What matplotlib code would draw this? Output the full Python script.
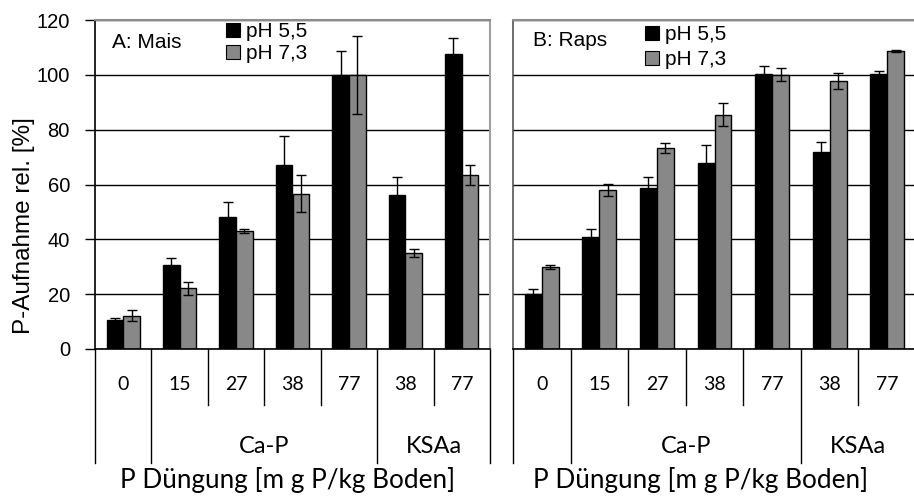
import numpy as np
import matplotlib
matplotlib.use("Agg")
import matplotlib.pyplot as plt
from matplotlib.patches import Patch
from matplotlib.lines import Line2D
from matplotlib.transforms import blended_transform_factory

# ---------------- data ----------------
doses = ["0", "15", "27", "38", "77", "38", "77"]
groups = [("Ca-P", 1, 4), ("KSAa", 5, 6)]
series_names = ["pH 5,5", "pH 7,3"]

mais_ph55 = [10.6, 30.7, 48.0, 67.1, 100.0, 56.0, 107.6]
mais_ph55_err = [0.6, 2.5, 5.5, 10.5, 8.7, 6.6, 6.0]
mais_ph73 = [12.2, 22.1, 43.0, 56.6, 100.0, 35.0, 63.5]
mais_ph73_err = [2.0, 2.4, 0.8, 6.7, 14.3, 1.3, 3.5]

raps_ph55 = [19.9, 40.8, 58.7, 67.8, 100.2, 72.0, 100.2]
raps_ph55_err = [2.0, 3.0, 4.2, 6.6, 3.0, 3.6, 1.2]
raps_ph73 = [29.9, 58.1, 73.3, 85.5, 100.0, 97.7, 108.7]
raps_ph73_err = [0.7, 2.2, 1.8, 4.2, 2.4, 3.0, 0.5]

panel_titles = ["A: Mais", "B: Raps"]
ylabel = "P-Aufnahme rel. [%]"
xlabel = "P Düngung [m g P/kg Boden]"
yticks = [0, 20, 40, 60, 80, 100, 120]

# ---------------- style ----------------
W, H = 914, 496
BLACK = "#000000"
GREY = "#888888"
ARIAL = ["Liberation Sans", "DejaVu Sans"]
CALIBRI = ["Lato", "DejaVu Sans"]

fig = plt.figure(figsize=(W / 100, H / 100), dpi=100)

def px_axes(x0, y0, x1, y1):
    return fig.add_axes([x0 / W, 1 - y1 / H, (x1 - x0) / W, (y1 - y0) / H])

ax1 = px_axes(95, 20, 490, 349)
ax2 = px_axes(513, 20, 916, 349)

def fy(p):
    return 1 - p / H

def draw_panel(ax, v55, e55, v73, e73, title, title_pos, leg_anchor, leg_spacing,
               xlabel_x, show_yticks):
    x = np.arange(len(doses))
    bw = 0.295
    ax.set_axisbelow(True)
    ax.yaxis.grid(True, color="black", linewidth=1.0)
    ax.bar(x - bw / 2, v55, width=bw, color=BLACK, edgecolor="black", linewidth=1, zorder=2)
    ax.bar(x + bw / 2, v73, width=bw, color=GREY, edgecolor="black", linewidth=1, zorder=2)
    ax.errorbar(x - bw / 2, v55, yerr=e55, fmt="none", ecolor="black", elinewidth=1,
                capsize=3.5, capthick=1, zorder=3)
    ax.errorbar(x + bw / 2, v73, yerr=e73, fmt="none", ecolor="black", elinewidth=1,
                capsize=3.5, capthick=1, zorder=3)
    ax.set_xlim(-0.5, len(doses) - 0.5)
    ax.set_ylim(0, 120)
    ax.set_yticks(yticks)
    ax.set_xticks([])
    if show_yticks:
        ax.tick_params(axis="y", direction="out", length=7, width=1, pad=11,
                       labelsize=14.5, colors="black")
        for lab in ax.get_yticklabels():
            lab.set_family(ARIAL)
    else:
        ax.tick_params(axis="y", length=0, labelleft=False)
    for s in ["left", "bottom"]:
        ax.spines[s].set_color("black")
        ax.spines[s].set_linewidth(1.2)
    ax.spines["top"].set_color("#8c8c8c")
    ax.spines["top"].set_linewidth(1.5)
    ax.spines["right"].set_color("#a0a0a0")
    ax.spines["right"].set_linewidth(1.5)
    if not show_yticks:
        ax.spines["left"].set_color("#555555")

    # panel label
    ax.text(title_pos[0], title_pos[1], title, transform=fig.transFigure,
            ha="left", va="center", fontsize=15, family=ARIAL)

    # legend
    handles = [Patch(facecolor=BLACK, edgecolor="black", linewidth=0.8),
               Patch(facecolor=GREY, edgecolor="black", linewidth=0.8)]
    ax.legend(handles, series_names, loc="upper left", bbox_to_anchor=leg_anchor,
              bbox_transform=fig.transFigure, frameon=False, prop={"family": ARIAL, "size": 15},
              handlelength=0.65, handleheight=0.65, handletextpad=0.3,
              labelspacing=leg_spacing, borderpad=0, borderaxespad=0)

    # category labels + separators
    tr = blended_transform_factory(ax.transData, fig.transFigure)
    for i, d in enumerate(doses):
        ax.text(i, fy(390), d, transform=tr, ha="center", va="baseline",
                fontsize=14, family=CALIBRI)
    long_bounds = {-0.5, 0.5, 4.5, 6.5}
    for b in np.arange(-0.5, len(doses), 1.0):
        yend = 463 if b in long_bounds else 405
        ax.add_line(Line2D([b, b], [fy(349), fy(yend)], transform=tr, color="black",
                           linewidth=1.0, clip_on=False))
    for name, i0, i1 in groups:
        ax.text((i0 + i1) / 2, fy(453), name, transform=tr, ha="center", va="baseline",
                fontsize=17, family=CALIBRI)
    fig.text(xlabel_x / W, fy(488), xlabel, ha="center", va="baseline",
             fontsize=18.8, family=CALIBRI)

draw_panel(ax1, mais_ph55, mais_ph55_err, mais_ph73, mais_ph73_err, panel_titles[0],
           (112 / W, fy(43)), (226 / W, fy(22)), 0.15, 288, True)
draw_panel(ax2, raps_ph55, raps_ph55_err, raps_ph73, raps_ph73_err, panel_titles[1],
           (533 / W, fy(41)), (645 / W, fy(25)), 0.3, 701, False)

fig.text(24 / W, fy(226), ylabel, rotation=90, ha="center", va="center",
         fontsize=17.5, family=ARIAL)

fig.savefig("out.png", dpi=100)
